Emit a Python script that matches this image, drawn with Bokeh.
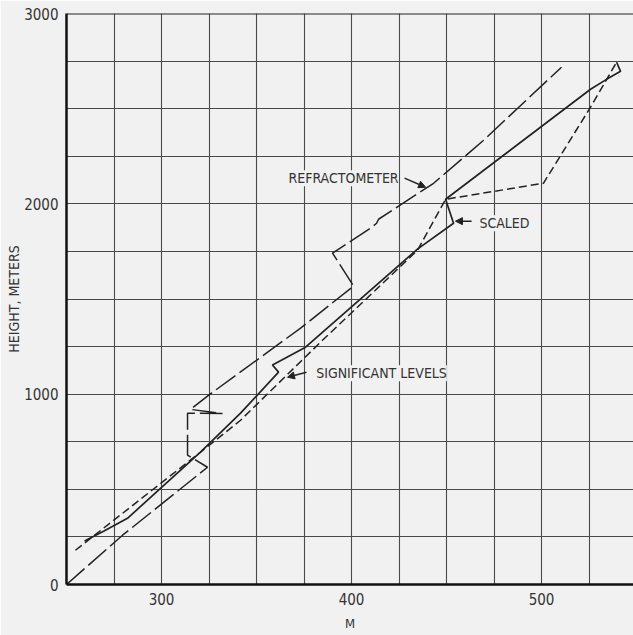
from bokeh.plotting import figure
from bokeh.models import Label, Arrow, NormalHead, FixedTicker, Span, Range1d, Title
from bokeh.embed import file_html
from bokeh.resources import INLINE

# ---- data (M units vs height in meters) ----
refr_m = [250, 279.5, 324.2, 316.3, 313.7, 313.7, 332.1, 315.3, 324.7, 373.2,
          401.1, 390.0, 410.0, 413.2, 414.2, 443.2, 469.5, 510.5]
refr_h = [0, 259, 616, 664, 680, 900, 898, 920, 994, 1347,
          1568, 1741, 1872, 1898, 1919, 2108, 2334, 2718]

scaled_m = [259.5, 269.5, 282.1, 320.5, 341.6, 361.6, 358.4, 375.8, 434.7,
            453.7, 449.5, 525.8, 534.2, 541.6, 539.5]
scaled_h = [228, 280, 348, 695, 900, 1116, 1153, 1247, 1762,
            1898, 2024, 2602, 2654, 2696, 2744]

sig_m = [254.7, 320.5, 341.6, 384.7, 434.7, 449.5, 501.0, 525.8, 539.5]
sig_h = [180, 695, 863, 1283, 1756, 2024, 2108, 2508, 2744]

x_ticks = [300, 400, 500]
y_ticks = [0, 1000, 2000, 3000]
x_grid = [250 + 25 * i for i in range(13)]
y_grid = [250 * i for i in range(13)]

BG = "#f1f1f1"
INK = "#222222"
TXT = "#333333"
FONT = "DejaVu Sans Condensed, Roboto, sans-serif"

p = figure(width=633, height=635, x_range=Range1d(250, 548.4), y_range=Range1d(0, 3000),
           output_backend="svg", toolbar_location=None,
           min_border_left=66, min_border_right=0, min_border_top=13, min_border_bottom=51,
           background_fill_color=BG, border_fill_color=BG, outline_line_color=None)

p.xaxis.ticker = FixedTicker(ticks=x_ticks)
p.yaxis.ticker = FixedTicker(ticks=y_ticks)
p.xgrid.ticker = FixedTicker(ticks=x_grid)
p.ygrid.ticker = FixedTicker(ticks=y_grid)
for g in (p.xgrid, p.ygrid):
    g.grid_line_color = "#4a4a4a"
    g.grid_line_width = 1.1
    g.grid_line_alpha = 1.0

for ax in (p.xaxis, p.yaxis):
    ax.axis_line_color = "#111111"
    ax.axis_line_width = 2.5
    ax.major_tick_line_color = None
    ax.minor_tick_line_color = None
    ax.major_tick_out = 0
    ax.major_tick_in = 0
    ax.minor_tick_out = 0
    ax.minor_tick_in = 0
    ax.major_label_text_font = FONT
    ax.major_label_text_font_size = "15px"
    ax.major_label_text_color = TXT
p.xaxis.major_label_standoff = 8
p.yaxis.major_label_standoff = 8

p.xaxis.axis_label = "M"
p.xaxis.axis_label_standoff = 8
p.xaxis.axis_label_text_font = FONT
p.xaxis.axis_label_text_font_size = "13px"
p.xaxis.axis_label_text_font_style = "normal"
p.xaxis.axis_label_text_color = TXT

# y-axis title as a side title
p.add_layout(Title(text="HEIGHT, METERS", align="center", standoff=0,
                   text_font=FONT, text_font_size="14px", text_font_style="normal",
                   text_color=TXT), "left")

p.add_layout(Span(location=3000, dimension="width", line_color="#222222", line_width=2))

p.line(refr_m, refr_h, line_color=INK, line_width=1.5, line_dash="24 5")
p.line(scaled_m, scaled_h, line_color=INK, line_width=1.7)
p.line(sig_m, sig_h, line_color=INK, line_width=1.5, line_dash="8 4")

def lab(x, y, t, size="14px", bg=BG):
    p.add_layout(Label(x=x, y=y, text=t, text_font=FONT, text_font_size=size,
                       text_color=TXT, text_align="center", text_baseline="middle",
                       background_fill_color=bg))

lab(395.8, 2135, "REFRACTOMETER")
lab(480.5, 1898, "SCALED")
lab(415.8, 1110, "SIGNIFICANT LEVELS")

def arrow(x0, y0, x1, y1):
    p.add_layout(Arrow(x_start=x0, y_start=y0, x_end=x1, y_end=y1, line_color=INK,
                       line_width=1.5,
                       end=NormalHead(size=7, fill_color=INK, line_color=INK)))

arrow(427.9, 2135, 439.0, 2087)
arrow(463.2, 1909, 454.7, 1909)
arrow(376.3, 1115, 366.3, 1089)

open("out.html", "w").write(file_html(p, INLINE))
